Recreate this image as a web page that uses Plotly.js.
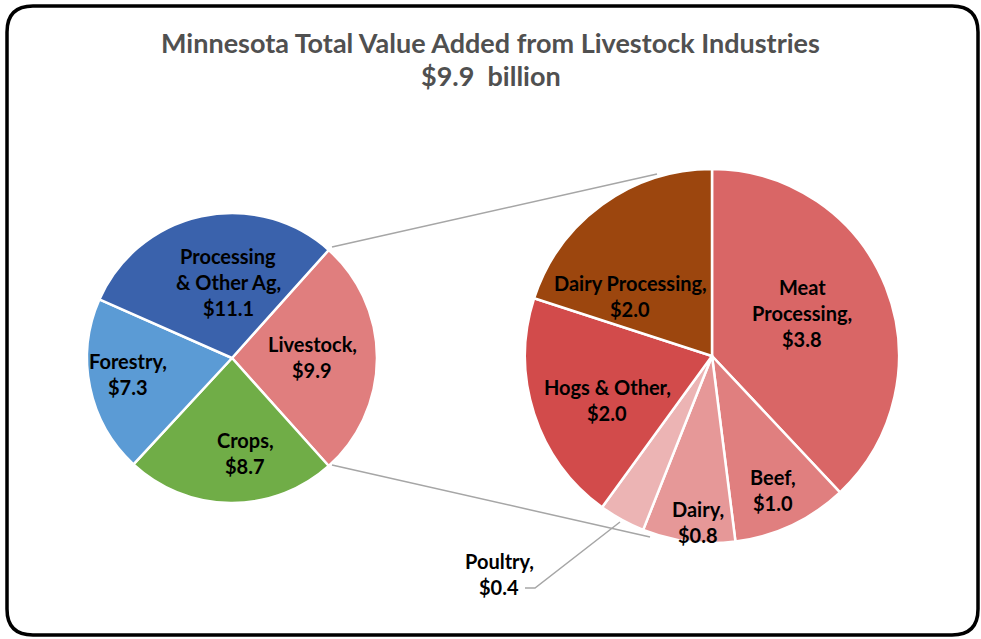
<!DOCTYPE html>
<html><head><meta charset="utf-8">
<script src="https://cdn.plot.ly/plotly-3.0.1.min.js"></script>
<style>html,body{margin:0;padding:0;background:#fff}#chart{width:981px;height:639px}</style>
</head><body><div id="chart"></div>
<script>
// ---- data ----
const mainLabels = ['Livestock', 'Crops', 'Forestry', 'Processing & Other Ag'];
const mainValues = [9.9, 8.7, 7.3, 11.1];
const subLabels = ['Meat Processing', 'Beef', 'Dairy', 'Poultry', 'Hogs & Other', 'Dairy Processing'];
const subValues = [3.8, 1.0, 0.8, 0.4, 2.0, 2.0];
const titleText = 'Minnesota Total Value Added from Livestock Industries';
const subtitleText = '$9.9\u00a0 billion';

// ---- styles ----
const mainColors = ['#E07E7E', '#70AD47', '#5B9BD5', '#3A62AC'];
const subColors = ['#D96666', '#E07F7F', '#E69898', '#ECB4B4', '#D24B4B', '#9C460E'];
// label line wrapping (display only)
const mainWrap = ['Livestock', 'Crops', 'Forestry', 'Processing\n& Other Ag'];
const subWrap = ['Meat\nProcessing', 'Beef', 'Dairy', 'Poultry', 'Hogs & Other', 'Dairy Processing'];
// label centres in pixels
const mainLabelPos = [[312, 357], [245, 453], [128, 374], [228, 282]];
const subLabelPos = [[802, 313], [773, 490], [698, 522], [499, 574], [607, 400], [630, 296]];

const W = 981, H = 639;
const px = x => x / W, py = y => 1 - y / H;

const mainTotal = mainValues.reduce((a, b) => a + b, 0);
const mainRotation = 90 - (mainValues[0] / mainTotal) * 180;

const FONT = 'Lato, "Open Sans", sans-serif';
const labelSize = 20, lineGap = 26;

const annotations = [];
function addLabel(wrap, value, pos) {
  const lines = (wrap + ',').split('\n');
  lines.push('$' + value.toFixed(1));
  const n = lines.length;
  lines.forEach((ln, i) => {
    const y = pos[1] + (i - (n - 1) / 2) * lineGap;
    annotations.push({
      text: ln, x: px(pos[0]), y: py(y), xref: 'paper', yref: 'paper',
      xanchor: 'center', yanchor: 'middle', showarrow: false,
      font: {family: FONT, size: labelSize, color: '#000', weight: 'bold'}
    });
  });
}
mainWrap.forEach((w, i) => addLabel(w, mainValues[i], mainLabelPos[i]));
subWrap.forEach((w, i) => addLabel(w, subValues[i], subLabelPos[i]));

// title lines
[[titleText, 43], [subtitleText, 76]].forEach(([t, y]) => {
  annotations.push({
    text: t, x: 0.5, y: py(y), xref: 'paper', yref: 'paper', xanchor: 'center', yanchor: 'middle',
    showarrow: false, font: {family: FONT, size: 27, color: '#505050', weight: 'bold'}
  });
});

// frame path (rounded rect)
const fx0 = 7, fx1 = 978, fy0 = 6, fy1 = 635, rr = 26;
const frame = `M ${px(fx0 + rr)} ${py(fy0)} L ${px(fx1 - rr)} ${py(fy0)} Q ${px(fx1)} ${py(fy0)} ${px(fx1)} ${py(fy0 + rr)} ` +
  `L ${px(fx1)} ${py(fy1 - rr)} Q ${px(fx1)} ${py(fy1)} ${px(fx1 - rr)} ${py(fy1)} ` +
  `L ${px(fx0 + rr)} ${py(fy1)} Q ${px(fx0)} ${py(fy1)} ${px(fx0)} ${py(fy1 - rr)} ` +
  `L ${px(fx0)} ${py(fy0 + rr)} Q ${px(fx0)} ${py(fy0)} ${px(fx0 + rr)} ${py(fy0)} Z`;

const connColor = '#A6A6A6';
const shapes = [
  {type: 'path', xref: 'paper', yref: 'paper', path: frame, line: {color: '#000', width: 3.5}},
  {type: 'line', xref: 'paper', yref: 'paper', x0: px(332), y0: py(247), x1: px(657), y1: py(174), line: {color: connColor, width: 1.5}},
  {type: 'line', xref: 'paper', yref: 'paper', x0: px(332), y0: py(465), x1: px(650), y1: py(537), line: {color: connColor, width: 1.5}},
  {type: 'path', xref: 'paper', yref: 'paper',
   path: `M ${px(525)} ${py(588)} L ${px(535)} ${py(588)} L ${px(620)} ${py(522)}`, line: {color: connColor, width: 1.5}}
];

const traces = [
  {
    type: 'pie', labels: mainLabels, values: mainValues, sort: false, direction: 'clockwise',
    rotation: mainRotation, textinfo: 'none', hoverinfo: 'skip',
    marker: {colors: mainColors, line: {color: '#fff', width: 2.5}},
    domain: {x: [px(87), px(377)], y: [py(503), py(213)]}, showlegend: false
  },
  {
    type: 'pie', labels: subLabels, values: subValues, sort: false, direction: 'clockwise',
    rotation: 0, textinfo: 'none', hoverinfo: 'skip',
    marker: {colors: subColors, line: {color: '#fff', width: 2.5}},
    domain: {x: [px(525), px(899)], y: [py(543), py(169)]}, showlegend: false
  }
];

const layout = {
  width: W, height: H, margin: {l: 0, r: 0, t: 0, b: 0},
  paper_bgcolor: '#fff', plot_bgcolor: '#fff', showlegend: false,
  annotations: annotations, shapes: shapes
};
Plotly.newPlot('chart', traces, layout, {displayModeBar: false, staticPlot: true});
</script></body></html>
